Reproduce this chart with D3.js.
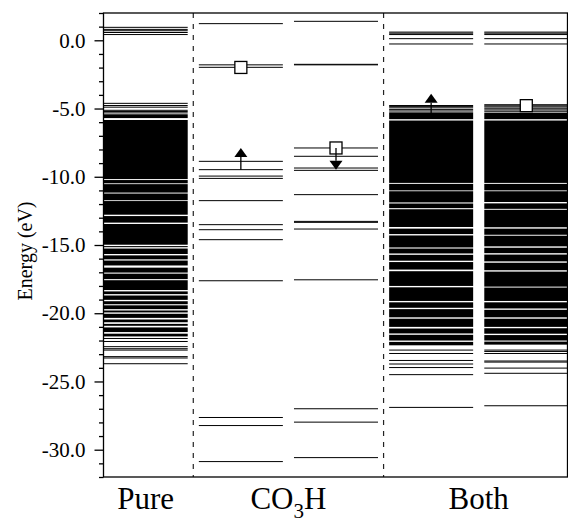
<!DOCTYPE html>
<html><head><meta charset="utf-8">
<script src="https://cdn.jsdelivr.net/npm/d3@7"></script>
<style>body{margin:0;background:#fff} svg{display:block}</style>
</head><body>
<svg id="c" width="568" height="524"></svg>
<script>
// ---------------- data ----------------
const groups = ["Pure", "CO3H", "Both"];
const groupColumns = [[0], [1, 2], [3, 4]];
const columns = [0, 1, 2, 3, 4];
const yTicks = [0, -5, -10, -15, -20, -25, -30];
const yMinorTicks = [2, 1, -1, -2, -3, -4, -6, -7, -8, -9, -11, -12, -13, -14, -16, -17, -18, -19,
  -21, -22, -23, -24, -26, -27, -28, -29, -31, -32];

// discrete levels (eV)
const pureLevels = [0.95, 0.80, 0.70, 0.57, 0.42, -4.62, -4.78, -4.90, -5.13, -5.22, -5.32,
  -21.85, -22.07, -22.45, -22.60, -22.70, -23.18, -23.28, -23.70];
const co3hUpLevels = [1.22, -1.80, -1.98, -8.87, -9.48, -9.95, -10.12, -11.75, -13.51, -13.88,
  -14.61, -17.62, -27.64, -28.23, -30.87];
const co3hDownLevels = [1.39, -1.76, -1.80, -7.89, -8.50, -9.36, -9.53, -11.31, -13.27, -13.34,
  -13.83, -17.55, -27.00, -27.98, -30.58];
const bothUpLevels = [0.60, 0.52, 0.42, 0.12, -0.27, -4.78, -4.86, -4.95, -5.08, -5.18,
  -22.70, -22.95, -23.46, -23.72, -23.98, -24.50, -26.90];
const bothDownLevels = [0.60, 0.52, 0.42, 0.12, -0.27, -4.72, -4.80, -4.88, -4.98, -5.10, -5.20,
  -22.70, -22.80, -22.95, -23.50, -23.58, -24.02, -24.40, -26.78];

// quasi-continuous regions of levels [top, bottom] (eV)
const pureBands = [[-5.42, -5.70], [-5.84, -10.17], [-10.24, -10.48], [-10.54, -11.16],
  [-11.23, -11.72], [-11.78, -12.78], [-12.88, -13.36], [-13.46, -14.98], [-15.08, -15.16],
  [-15.26, -15.66], [-15.76, -16.05], [-16.14, -16.50], [-16.66, -17.02], [-17.10, -17.50],
  [-17.58, -18.30], [-18.40, -18.60], [-18.70, -19.02], [-19.12, -19.34], [-19.42, -19.70],
  [-19.80, -19.94], [-20.04, -20.34], [-20.46, -20.66], [-20.78, -20.92], [-21.04, -21.38],
  [-21.50, -21.70]];
const bothUpBands = [[-5.28, -5.78], [-5.88, -10.45], [-10.52, -11.00], [-11.06, -11.88],
  [-11.96, -12.30], [-12.38, -13.68], [-13.80, -14.20], [-14.30, -15.18], [-15.26, -15.62],
  [-15.72, -16.15], [-16.25, -16.80], [-16.92, -18.00], [-18.10, -19.10], [-19.20, -19.60],
  [-19.70, -20.30], [-20.40, -21.00], [-21.12, -21.48], [-21.58, -22.00], [-22.10, -22.35]];
const bothDownBands = [[-5.30, -5.78], [-5.88, -10.45], [-10.52, -11.00], [-11.06, -11.85],
  [-11.95, -12.35], [-12.42, -13.70], [-13.80, -14.25], [-14.32, -15.10], [-15.20, -15.60],
  [-15.70, -16.20], [-16.30, -16.85], [-16.95, -18.05], [-18.12, -19.10], [-19.20, -19.65],
  [-19.75, -20.30], [-20.40, -21.00], [-21.10, -21.50], [-21.60, -22.00], [-22.08, -22.30]];

const columnLevels = [pureLevels, co3hUpLevels, co3hDownLevels, bothUpLevels, bothDownLevels];
const columnBands = [pureBands, [], [], bothUpBands, bothDownBands];

// spin markers
const arrows = [{col: 1, from: -9.48, to: -7.89}, {col: 2, from: -7.89, to: -9.48}, {col: 3, from: -5.32, to: -3.91}];
const squares = [{col: 1, e: -1.99}, {col: 2, e: -7.89}, {col: 4, e: -4.79}];

// ---------------- chart ----------------
const W = 568, H = 524;
const L = 103.5, R = 567.5, T = 13, B = 477;
const svg = d3.select("#c");
const font = "'Liberation Serif','Times New Roman',Times,serif";

const y = d3.scaleLinear().domain([-32, 2]).range([B, T]);
const x = d3.scaleBand().domain(columns).range([103.7, 568.3]).paddingInner(0.117).paddingOuter(0);

svg.append("defs").append("clipPath").attr("id", "clip")
  .append("rect").attr("x", L).attr("y", T).attr("width", R - L).attr("height", B - T);

const plot = svg.append("g").attr("clip-path", "url(#clip)");

// bands
columns.forEach(c => {
  plot.append("g").selectAll("rect").data(columnBands[c]).join("rect")
    .attr("x", x(c)).attr("width", x.bandwidth())
    .attr("y", d => y(d[0])).attr("height", d => y(d[1]) - y(d[0]))
    .attr("fill", "#000");
  plot.append("g").selectAll("line").data(columnLevels[c]).join("line")
    .attr("x1", x(c)).attr("x2", x(c) + x.bandwidth())
    .attr("y1", d => y(d)).attr("y2", d => y(d))
    .attr("stroke", "#000").attr("stroke-width", 1);
});

// separators
const gapHalf = (x.step() - x.bandwidth()) / 2;
[1, 3].forEach(c => {
  svg.append("line")
    .attr("x1", x(c) - gapHalf).attr("x2", x(c) - gapHalf)
    .attr("y1", T).attr("y2", B)
    .attr("stroke", "#222").attr("stroke-width", 1.2)
    .attr("stroke-dasharray", "5,6");
});

// squares
const sq = 12;
plot.append("g").selectAll("rect").data(squares).join("rect")
  .attr("x", d => x(d.col) + x.bandwidth() / 2 - sq / 2)
  .attr("y", d => y(d.e) - sq / 2)
  .attr("width", sq).attr("height", sq)
  .attr("fill", "#fff").attr("stroke", "#000").attr("stroke-width", 1.3);

// arrows
const ah = 9, aw = 13;
arrows.forEach(a => {
  const cx = x(a.col) + x.bandwidth() / 2;
  const y0 = y(a.from), y1 = y(a.to);
  const dir = y1 < y0 ? 1 : -1; // 1 = up
  plot.append("line").attr("x1", cx).attr("x2", cx)
    .attr("y1", y0).attr("y2", y1 + dir * ah)
    .attr("stroke", "#000").attr("stroke-width", 1.3);
  plot.append("path")
    .attr("d", `M${cx},${y1} L${cx - aw / 2},${y1 + dir * ah} L${cx + aw / 2},${y1 + dir * ah} Z`)
    .attr("fill", "#000");
});

// frame
svg.append("rect").attr("x", L).attr("y", T).attr("width", R - L).attr("height", B - T)
  .attr("fill", "none").attr("stroke", "#000").attr("stroke-width", 1.3);

// y axis
const yAxis = svg.append("g").attr("transform", `translate(${L},0)`)
  .call(d3.axisLeft(y).tickValues(yTicks).tickSize(9).tickPadding(9).tickFormat(d => d.toFixed(1)));
yAxis.select(".domain").remove();
yAxis.selectAll("line").attr("stroke", "#000").attr("stroke-width", 1.3);
yAxis.selectAll("text").attr("font-family", font).attr("font-size", 21).attr("fill", "#000");

const yMinor = svg.append("g").attr("transform", `translate(${L},0)`)
  .call(d3.axisLeft(y).tickValues(yMinorTicks).tickSize(4.5).tickFormat(""));
yMinor.select(".domain").remove();
yMinor.selectAll("line").attr("stroke", "#000").attr("stroke-width", 1.3);

// y title
svg.append("text").attr("transform", `translate(32,251) rotate(-90)`)
  .attr("text-anchor", "middle").attr("font-family", font).attr("font-size", 20)
  .text("Energy (eV)");

// group labels
groups.forEach((g, i) => {
  const cols = groupColumns[i];
  const cx = (x(cols[0]) + x(cols[cols.length - 1]) + x.bandwidth()) / 2;
  const t = svg.append("text").attr("x", cx).attr("y", 509)
    .attr("text-anchor", "middle").attr("font-family", font).attr("font-size", 31);
  if (g === "CO3H") {
    t.append("tspan").text("CO");
    t.append("tspan").attr("font-size", 21).attr("dy", 9).text("3");
    t.append("tspan").attr("dy", -9).text("H");
  } else {
    t.text(g);
  }
});
</script>
</body></html>
